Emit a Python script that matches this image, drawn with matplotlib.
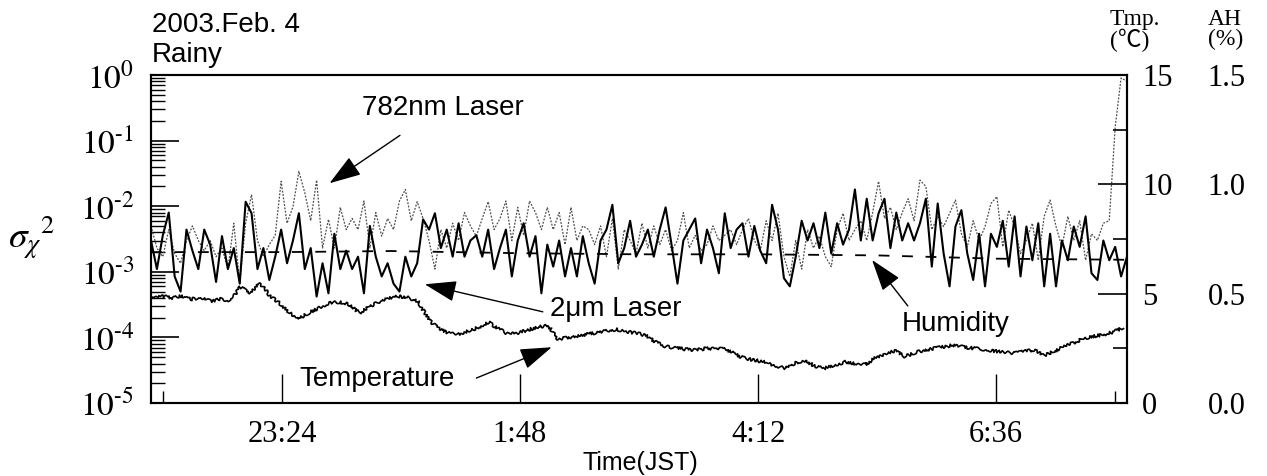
import matplotlib.pyplot as plt
import numpy as np
from matplotlib.ticker import LogLocator, NullFormatter, FuncFormatter, FixedLocator

plt.rcParams["mathtext.fontset"] = "stix"

# sigma_chi^2, in units of 1e-3, evenly spaced in time
sig_2um = [3.0, 1.1, 3.6, 8.0, 0.85, 0.5, 4.4, 2.1, 1.1, 4.4, 2.6, 0.7, 3.5, 1.1, 2.3, 0.66, 11.7,
           7.8, 1.1, 2.3, 0.75, 1.7, 4.4, 1.35, 3.0, 7.8, 1.1, 2.3, 0.42, 1.35, 0.47, 3.8, 1.1, 2.1,
           1.1, 1.7, 0.47, 5.0, 1.7, 0.85, 1.35, 0.66, 0.5, 1.7, 0.85, 1.35, 6.3, 4.4, 7.8, 2.3, 4.4,
           1.7, 5.5, 1.7, 3.0, 3.6, 1.7, 4.4, 1.1, 2.3, 4.4, 0.85, 3.0, 5.5, 1.7, 3.5, 0.47,
           2.6, 1.2, 3.0, 0.85, 2.3, 0.85, 3.5, 1.35, 0.66, 3.0, 4.4, 10.5, 1.35, 2.3, 6.0, 1.7, 2.6,
           4.4, 1.7, 4.4, 9.6, 2.6, 0.66, 3.0, 4.4, 6.5, 1.35, 4.4, 2.3, 0.95, 7.8, 2.3, 4.4,
           5.5, 1.7, 5.0, 2.1, 1.35, 10.5, 4.4, 0.8, 0.6, 1.7, 6.0, 3.0, 5.5, 2.3, 8.0, 1.9, 5.5,
           2.6, 4.4, 18.0, 3.0, 13.0, 3.0, 7.8, 13.0, 2.3, 8.0, 3.0, 5.5, 3.0, 5.5, 13.0, 1.2,
           11.0, 1.9, 0.6, 4.9, 8.7, 1.9, 0.75, 3.8, 0.6, 3.8, 2.4, 6.0, 1.2, 7.0, 0.85, 4.9, 1.5,
           5.5, 0.6, 3.8, 0.6, 3.0, 1.5, 4.9, 2.4, 7.0, 0.95, 0.75, 3.0, 1.5, 2.4, 0.85, 1.7]
sig_782 = [5.0, 2.3, 1.7, 4.4, 1.9, 1.35, 3.0, 5.0, 3.0, 2.1, 3.0, 1.7, 2.3, 1.1, 5.5, 0.66, 5.5,
           15.0, 3.0, 1.7, 2.6, 3.6, 24.0, 5.5, 9.8, 34.0, 16.0, 6.0, 25.0, 2.3, 6.3, 2.3, 9.6, 4.4,
           6.5, 4.4, 12.0, 2.3, 8.0, 3.5, 6.5, 4.4, 12.0, 18.0, 6.0, 11.7, 6.5, 3.0, 1.1, 4.4, 2.3,
           5.5, 3.0, 8.0, 5.0, 3.5, 6.5, 11.7, 4.4, 6.5, 12.0, 3.0, 9.6, 3.6, 12.0, 8.0, 4.4,
           9.6, 4.4, 8.0, 2.6, 9.6, 3.0, 5.0, 4.4, 2.6, 5.0, 1.7, 6.5, 1.1, 4.4, 3.0, 1.9, 5.5,
           2.3, 5.0, 2.6, 4.4, 2.1, 3.0, 8.0, 2.3, 3.6, 2.1, 2.6, 5.0, 3.0, 3.6, 4.4, 2.6,
           4.4, 6.5, 3.0, 2.1, 6.0, 3.0, 7.8, 1.7, 0.85, 3.0, 1.1, 4.4, 2.3, 3.5, 1.7, 1.2, 4.4,
           7.8, 3.0, 4.4, 6.0, 3.0, 8.0, 24.0, 6.5, 9.6, 4.4, 8.0, 13.0, 6.0, 25.0, 20.0, 4.4,
           7.0, 4.9, 7.8, 12.4, 3.8, 2.4, 6.0, 3.0, 4.9, 11.0, 14.0, 2.4, 8.7, 4.9, 1.9, 3.0, 5.5,
           1.5, 7.0, 12.4, 4.9, 2.4, 7.0, 3.0, 6.0, 1.5, 3.8, 3.0, 5.5, 6.0, 160.0, 900.0, 800.0]

# temperature (deg C), one value every 0.1 h
temp_c = [4.86, 4.92, 4.80, 4.88, 4.74, 4.82, 4.66, 4.75, 4.68, 5.30, 5.05, 5.48, 4.90, 4.55,
          4.10, 3.88, 4.15, 4.35, 4.58, 4.62, 4.50, 4.12, 4.40, 4.62, 4.80, 4.88, 4.82, 4.60,
          3.80, 3.40, 3.20, 3.15, 3.30, 3.45, 3.70, 3.40, 3.15, 3.20, 3.35, 3.45, 3.58, 2.90,
          3.00, 3.05, 3.15, 3.22, 3.30, 3.36, 3.25, 3.20, 3.05, 2.75, 2.57, 2.52, 2.45, 2.42,
          2.50, 2.48, 2.46, 2.20, 2.02, 1.95, 1.85, 1.70, 1.58, 1.85, 1.95, 1.65, 1.60, 1.75,
          1.88, 1.80, 1.76, 2.05, 2.25, 2.40, 2.12, 2.30, 2.42, 2.50, 2.58, 2.65, 2.55, 2.50,
          2.45, 2.38, 2.32, 2.28, 2.35, 2.43, 2.16, 2.35, 2.57, 2.75, 2.95, 3.05, 3.12, 3.25, 3.45]

# absolute humidity (%)
ah_hours = [22.08, 23.4, 24.5, 25.8, 27.0, 28.2, 29.4, 30.6, 31.92]
ah_pct = [0.69, 0.69, 0.695, 0.685, 0.68, 0.68, 0.675, 0.66, 0.655]

tick_hours = [23.4, 25.8, 28.2, 30.6]
tick_labels = ["23:24", "1:48", "4:12", "6:36"]
minor_hours = [22.2, 31.8]
tmp_ticks = [0, 5, 10, 15]
ah_ticks = [0.0, 0.5, 1.0, 1.5]

t_sig = np.linspace(22.08, 31.92, len(sig_2um))
t_tmp = np.linspace(22.08, 31.88, len(temp_c))

W, H = 1267, 476
fig = plt.figure(figsize=(W / 100, H / 100), dpi=100)
ax = fig.add_axes([151 / W, 1 - 403 / H, (1127 - 151) / W, (403 - 75) / H])

ax.plot(t_sig, np.array(sig_782) * 1e-3, color="0.3", lw=0.9, ls=(0, (1.5, 1.2)), zorder=2)
ax.plot(t_sig, np.array(sig_2um) * 1e-3, color="black", lw=1.5, zorder=3)
ax.set_yscale("log")
ax.set_ylim(1e-5, 1)
ax.set_xlim(22.08, 31.92)


def decade_label(v, _):
    p = round(np.log10(v))
    return r"$10^{%d}$" % p if p >= 0 else r"$10^{\text{-}%d}$" % -p


ax.yaxis.set_major_locator(LogLocator(base=10, numticks=10))
ax.yaxis.set_minor_locator(LogLocator(base=10, subs=np.arange(2, 10), numticks=20))
ax.yaxis.set_minor_formatter(NullFormatter())
ax.yaxis.set_major_formatter(FuncFormatter(decade_label))
ax.tick_params(axis="y", which="major", direction="in", length=20, width=1.2, labelsize=24, pad=12)
ax.tick_params(axis="y", which="minor", direction="in", length=10, width=1.0)

ax.set_xticks(tick_hours)
ax.set_xticklabels(tick_labels, family="Liberation Serif")
ax.xaxis.set_minor_locator(FixedLocator(minor_hours))
ax.tick_params(axis="x", which="major", direction="in", length=21, width=1.0, labelsize=22, pad=12)
ax.tick_params(axis="x", which="minor", direction="in", length=9, width=1.0)
ax.tick_params(top=False, right=False)
for s in ax.spines.values():
    s.set_linewidth(1.5)

# temperature axis
ax2 = ax.twinx()
t_line, = ax2.plot(t_tmp, temp_c, color="black", lw=1.2)
t_line.set_sketch_params(scale=1.5, length=3, randomness=8)
ax2.set_ylim(0, 15)
ax2.set_yticks(tmp_ticks)
ax2.set_yticklabels([str(v) for v in tmp_ticks], family="Liberation Serif")
ax2.yaxis.set_minor_locator(FixedLocator([2.5, 7.5, 12.5]))
ax2.tick_params(axis="y", which="major", direction="in", length=21, width=1.2, labelsize=22, pad=11)
ax2.tick_params(axis="y", which="minor", direction="in", length=10, width=1.2)
for s in ax2.spines.values():
    s.set_linewidth(1.5)

# humidity axis
ax3 = ax.twinx()
ax3.plot(ah_hours, ah_pct, color="black", lw=1.3, ls=(0, (6, 7)))
ax3.set_ylim(0, 1.5)
ax3.set_yticks(ah_ticks)
ax3.set_yticklabels(["%.1f" % v for v in ah_ticks], family="Liberation Serif")
ax3.tick_params(axis="y", length=0, labelsize=22, pad=58)
for s in ax3.spines.values():
    s.set_visible(False)

# annotations
sans = "Liberation Sans"
arrow = dict(arrowstyle="-|>,head_length=0.9,head_width=0.3", color="black", lw=1.0,
             mutation_scale=22, shrinkA=0, shrinkB=0)
ax.text(24.21, 10 ** -0.5, "782nm Laser", family=sans, fontsize=20, va="center")
ax.annotate("", xy=(23.88, 10 ** -1.65), xytext=(24.59, 10 ** -0.92), arrowprops=arrow)
ax.text(26.10, 10 ** -3.57, "2\u03bcm Laser", family=sans, fontsize=20, va="center")
ax.annotate("", xy=(24.84, 10 ** -3.19), xytext=(26.03, 10 ** -3.61), arrowprops=arrow)
ax.text(29.65, 10 ** -3.80, "Humidity", family=sans, fontsize=20, va="center")
ax.annotate("", xy=(29.35, 10 ** -2.82), xytext=(29.71, 10 ** -3.52), arrowprops=arrow)
ax.text(23.58, 10 ** -4.63, "Temperature", family=sans, fontsize=20, va="center")
ax.annotate("", xy=(26.12, 10 ** -4.15), xytext=(25.36, 10 ** -4.62), arrowprops=arrow)

fig.text(152 / W, 1 - 25 / H, "2003.Feb. 4", family=sans, fontsize=20, va="center")
fig.text(152 / W, 1 - 55 / H, "Rainy", family=sans, fontsize=20, va="center")
fig.text(640 / W, 1 - 463 / H, "Time(JST)", family=sans, fontsize=18, ha="center", va="center")
fig.text(32 / W, 1 - 238 / H, r"$\sigma_{\chi}{}^{2}$", fontsize=27, ha="center", va="center")
fig.text(1110 / W, 1 - 9 / H, "Tmp.\n(\u2103)", family=["Liberation Serif", "Noto Sans CJK JP"],
         fontsize=17, va="top", ha="left", linespacing=0.9)
fig.text(1208 / W, 1 - 9 / H, "AH\n(%)", family="Liberation Serif",
         fontsize=17, va="top", ha="left", linespacing=0.9)

fig.savefig("out.png", dpi=100)
